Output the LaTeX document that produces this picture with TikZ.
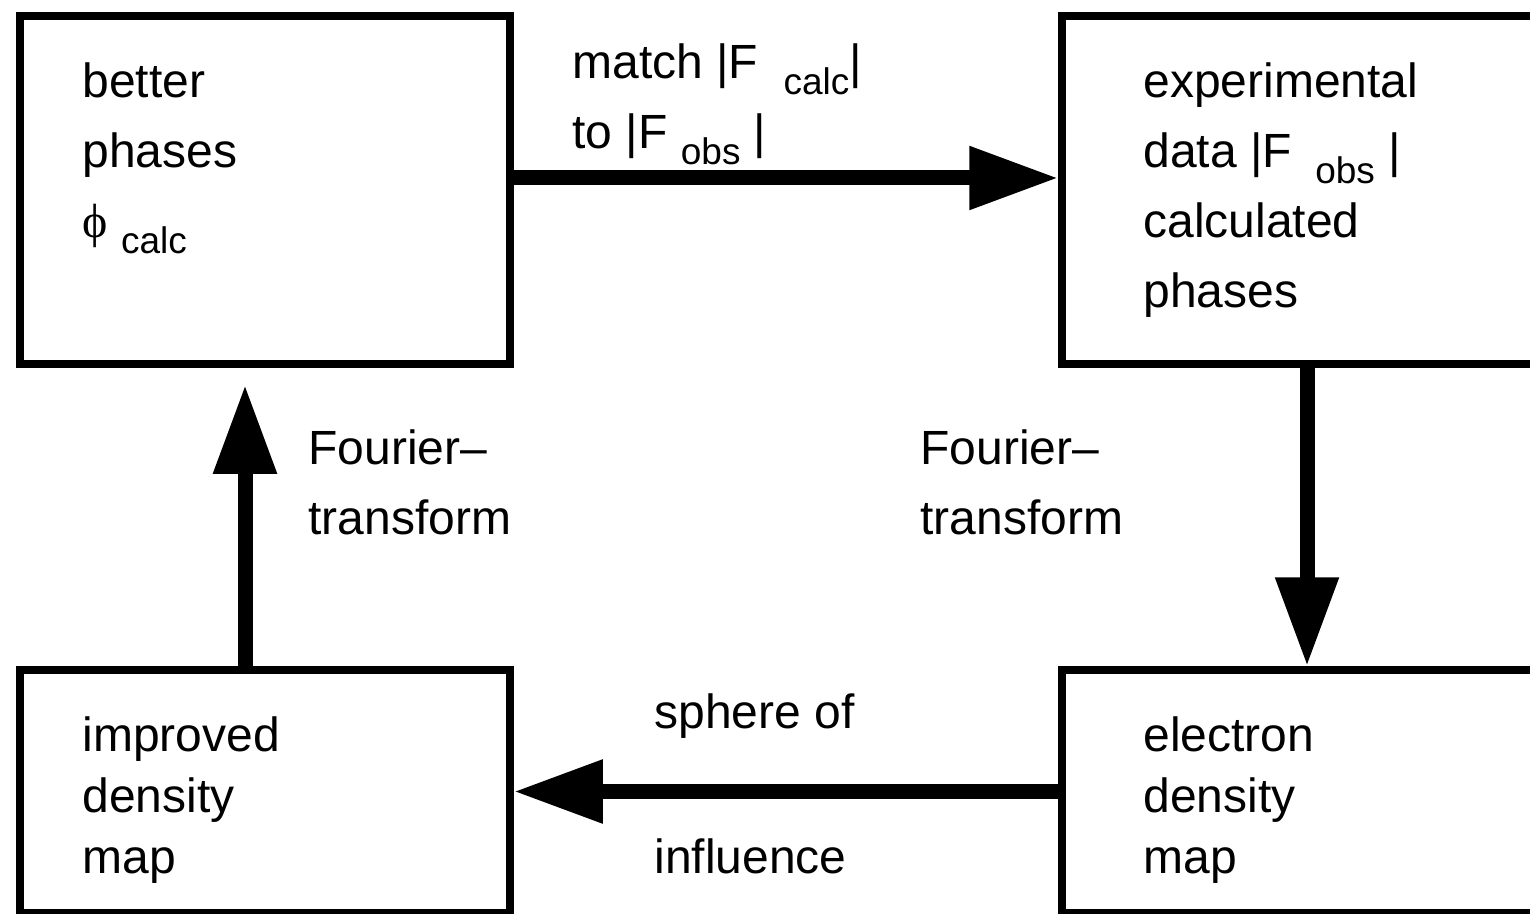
\documentclass[tikz,border=0pt]{standalone}
\usepackage{fontspec}
\setmainfont{Liberation Sans}
\newfontfamily\phifont{Liberation Serif}
\usetikzlibrary{arrows.meta}

\newcommand{\lo}[1]{\raisebox{-8pt}{\fontsize{18.5}{18.5}\selectfont #1}}

\begin{document}
\begin{tikzpicture}[x=0.5pt,y=-0.5pt,
  box/.style={draw,line width=3.75pt,minimum width=245pt,inner sep=0pt},
  lbl/.style={anchor=north west,align=left,inner sep=0pt,font=\fontsize{24}{35}\selectfont},
  flow/.style={line width=7.5pt,-{Triangle[length=44.5pt,width=30pt]}}]

\path[use as bounding box,clip] (0,0) rectangle (1530,914);

\node[box,minimum height=174pt] (p1) at (265,190) {};
\node[box,minimum height=174pt] (p2) at (1307,190) {};
\node[box,minimum height=121.5pt] (p3) at (1307,791.5) {};
\node[box,minimum height=121.5pt] (p4) at (265,791.5) {};

\node[lbl] (t1) at (82,62) {better\\phases\\{\phifont ϕ} \lo{calc}};
\node[lbl] (t2) at (572,43) {match |F \hspace{6pt}\lo{calc}|\\to |F \lo{obs} |};
\node[lbl] (t3) at (1143,62) {experimental\\data |F \hspace{5pt}\lo{obs} |\\calculated\\phases};
\node[lbl,font=\fontsize{24}{30.5}\selectfont] (t4) at (1143,716) {electron\\density\\map};
\node[lbl,font=\fontsize{24}{30.5}\selectfont] (t5) at (82,716) {improved\\density\\map};
\node[lbl] (t6) at (308,429) {Fourier--\\transform};
\node[lbl] (t7) at (920,429) {Fourier--\\transform};
\node[lbl,font=\fontsize{24}{72.5}\selectfont] (t8) at (654,693) {sphere of\\influence};

\draw[flow] ([yshift=6pt]p1.east) -- ([yshift=6pt]p2.west);
\draw[flow] (p2.south) -- (p3.north);
\draw[flow] (p3.west) -- (p4.east);
\draw[flow,shorten >=8.5pt] ([xshift=-10pt]p4.north) -- ([xshift=-10pt]p1.south);

\end{tikzpicture}
\end{document}
